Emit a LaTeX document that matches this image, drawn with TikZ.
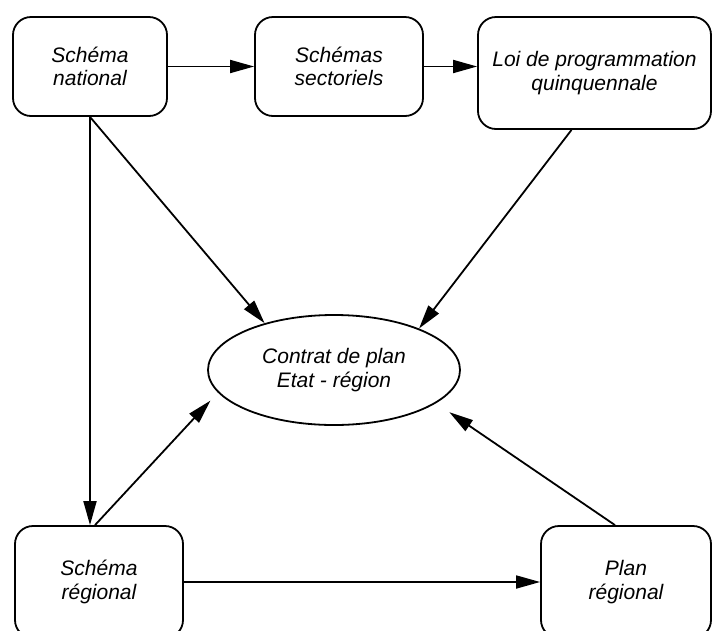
\documentclass[tikz,border=0pt]{standalone}
\usepackage{fontspec}
\setmainfont{Liberation Sans}
\usetikzlibrary{arrows.meta,shapes.geometric,calc}

\begin{document}
\begin{tikzpicture}[x=1pt,y=-1pt,
    every node/.style={font=\fontsize{21}{23.5}\selectfont\itshape, align=center, inner sep=0pt},
    box/.style={draw, line width=1.8pt, rounded corners=18pt},
    oval/.style={draw, line width=1.8pt, ellipse},
    link/.style={line width=1.8pt, -{Triangle[length=24pt,width=13pt]}}]
  \useasboundingbox (0,0) rectangle (713,630);

  % upper row
  \node[box, minimum width=154pt, minimum height=99pt] (nat) at (90,66.5) {Schéma\\national};
  \node[box, minimum width=168pt, minimum height=99pt] (sect) at (339,66.5) {Schémas\\sectoriels};
  \node[box, minimum width=233pt, minimum height=112pt] (loi) at (594.5,73) {Loi de programmation\\quinquennale};

  % contract in the middle
  \node[oval, minimum width=252pt, minimum height=110pt] (cp) at (334,370) {Contrat de plan\\Etat - région};

  % lower row
  \node[box, minimum width=168pt, minimum height=112pt] (reg) at (99,582) {Schéma\\régional};
  \node[box, minimum width=170pt, minimum height=112pt] (plan) at (626,582) {Plan\\régional};

  % connectors
  \draw[link] (nat) -- (sect);
  \draw[link] (sect.east) -- (sect.east -| loi.west);
  \draw[link] (nat.south) -- (cp.146);
  \draw[link] (loi.248) -- (cp.26);
  \draw[link] (nat.south) -- (nat.south |- reg.north);
  \draw[link, shorten >=11pt] ($(reg.north)+(-4,0)$) -- (cp.191);
  \draw[link, shorten >=16pt] ($(plan.north)+(-11,0)$) -- (cp.-18);
  \draw[link] (reg) -- (plan);
\end{tikzpicture}
\end{document}
